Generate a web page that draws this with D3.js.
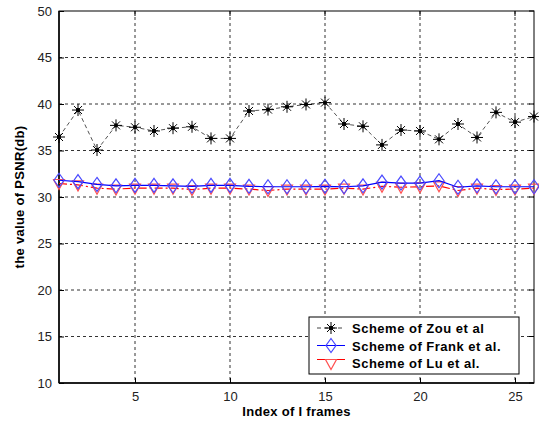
<!DOCTYPE html>
<html><head><meta charset="utf-8">
<script src="https://cdn.jsdelivr.net/npm/d3@7"></script>
<style>body{margin:0;background:#fff}svg{display:block}text{font-family:Arial,"Liberation Sans",sans-serif}</style>
</head><body><svg id="c" width="539" height="425"></svg>
<script>
const frames = d3.range(1, 27);
const zou   = [36.45,39.35,35.05,37.7,37.5,37.1,37.4,37.55,36.3,36.3,39.25,39.4,39.7,39.95,40.15,37.85,37.6,35.6,37.2,37.1,36.2,37.85,36.4,39.1,38.05,38.65];
const frank = [31.8,31.65,31.35,31.2,31.25,31.25,31.2,31.15,31.25,31.25,31.15,31.1,31.1,31.1,31.15,31.1,31.2,31.6,31.5,31.5,31.75,31.05,31.2,31.1,31.1,31.1];
const lu    = [31.45,31.3,30.95,30.85,30.95,30.95,30.95,30.8,30.95,30.95,30.85,30.7,30.85,30.85,30.85,30.95,30.85,31.15,31.05,31.1,31.2,30.7,30.95,30.8,30.85,30.95];
const xTicks = [5,10,15,20,25];
const yTicks = [10,15,20,25,30,35,40,45,50];
const seriesNames = ["Scheme of Zou et al","Scheme of Frank et al.","Scheme of Lu et al."];

const svg = d3.select("#c");
const L=59, R=534, T=11, B=383;
const x = d3.scaleLinear().domain([1,26]).range([L,R]);
const y = d3.scaleLinear().domain([10,50]).range([B,T]);
const g = svg.append("g");

g.selectAll(".gx").data(xTicks).join("line").attr("x1",d=>x(d)).attr("x2",d=>x(d)).attr("y1",T).attr("y2",B)
 .attr("stroke","#333").attr("stroke-width",1).attr("stroke-dasharray","3,3");
g.selectAll(".gy").data(yTicks.filter(d=>d>10&&d<50)).join("line").attr("y1",d=>y(d)).attr("y2",d=>y(d)).attr("x1",L).attr("x2",R)
 .attr("stroke","#333").attr("stroke-width",1).attr("stroke-dasharray","3,3");

g.append("rect").attr("x",L).attr("y",T).attr("width",R-L).attr("height",B-T).attr("fill","none").attr("stroke","#000").attr("stroke-width",1);
g.append("line").attr("x1",L).attr("x2",R).attr("y1",B).attr("y2",B).attr("stroke","#000").attr("stroke-width",1.5);
g.append("line").attr("x1",L).attr("x2",L).attr("y1",T).attr("y2",B).attr("stroke","#000").attr("stroke-width",1.5);

const xa = d3.axisBottom(x).tickValues(xTicks).tickSize(-5).tickPadding(9).tickFormat(d3.format("d"));
const ya = d3.axisLeft(y).tickValues(yTicks).tickSize(-5).tickPadding(7).tickFormat(d3.format("d"));
const gx = svg.append("g").attr("transform",`translate(0,${B})`).call(xa);
const gy = svg.append("g").attr("transform",`translate(${L},0)`).call(ya);
[gx,gy].forEach(a=>{a.select(".domain").remove();a.selectAll("text").attr("font-size",13).attr("fill","#222");a.selectAll("line").attr("stroke","#000");});
svg.selectAll(".tt").data(xTicks).join("line").attr("x1",d=>x(d)).attr("x2",d=>x(d)).attr("y1",T).attr("y2",T+5).attr("stroke","#000");
svg.selectAll(".rt").data(yTicks).join("line").attr("y1",d=>y(d)).attr("y2",d=>y(d)).attr("x1",R).attr("x2",R-5).attr("stroke","#000");

svg.append("text").attr("x",(L+R)/2).attr("y",416).attr("text-anchor","middle").attr("font-size",13).attr("font-weight","bold").attr("letter-spacing",0.3).text("Index of I frames");
svg.append("text").attr("transform",`translate(24,${(T+B)/2}) rotate(-90)`).attr("text-anchor","middle").attr("font-size",13).attr("font-weight","bold").attr("letter-spacing",0.3).text("the value of PSNR(db)");

const line = d3.line().x((d,i)=>x(frames[i])).y(d=>y(d));
const star = (sel, cx, cy) => {
  const s=sel.append("g").attr("transform",`translate(${cx},${cy})`).attr("stroke","#000").attr("stroke-width",1);
  s.append("line").attr("x1",-6).attr("x2",6).attr("y1",0).attr("y2",0);
  s.append("line").attr("x1",0).attr("x2",0).attr("y1",-6).attr("y2",6);
  s.append("line").attr("x1",-4).attr("x2",4).attr("y1",-4).attr("y2",4);
  s.append("line").attr("x1",-4).attr("x2",4).attr("y1",4).attr("y2",-4);
  s.append("circle").attr("r",1.6).attr("fill","#000");
};
const diamond = (sel,cx,cy)=>sel.append("path").attr("d",`M${cx},${cy-7}L${cx+5},${cy}L${cx},${cy+7}L${cx-5},${cy}Z`).attr("fill","none").attr("stroke","#4a4aff").attr("stroke-width",1.2);
const tri = (sel,cx,cy)=>sel.append("path").attr("d",`M${cx-5.5},${cy-4}L${cx+5.5},${cy-4}L${cx},${cy+6}Z`).attr("fill","none").attr("stroke","#ff5050").attr("stroke-width",1.2);

svg.append("path").datum(lu).attr("d",line).attr("fill","none").attr("stroke","#f00").attr("stroke-width",1.2).attr("stroke-dasharray","8,3,2,3");
const gl = svg.append("g"); lu.forEach((v,i)=>tri(gl,x(frames[i]),y(v)));
svg.append("path").datum(frank).attr("d",line).attr("fill","none").attr("stroke","#00f").attr("stroke-width",1.2);
const gf = svg.append("g"); frank.forEach((v,i)=>diamond(gf,x(frames[i]),y(v)));
svg.append("path").datum(zou).attr("d",line).attr("fill","none").attr("stroke","#555").attr("stroke-width",1).attr("stroke-dasharray","4,3");
const gz = svg.append("g"); zou.forEach((v,i)=>star(gz,x(frames[i]),y(v)));

const lg = svg.append("g").attr("transform","translate(309,317)");
lg.append("rect").attr("width",210).attr("height",57).attr("fill","#fff").attr("stroke","#000").attr("stroke-width",1);
const rows=[11,28.5,45.5];
lg.append("line").attr("x1",8).attr("x2",36).attr("y1",rows[0]).attr("y2",rows[0]).attr("stroke","#444").attr("stroke-dasharray","4,3");
star(lg,22,rows[0]);
lg.append("line").attr("x1",8).attr("x2",36).attr("y1",rows[1]).attr("y2",rows[1]).attr("stroke","#00f");
diamond(lg,22,rows[1]);
lg.append("line").attr("x1",8).attr("x2",36).attr("y1",rows[2]-3).attr("y2",rows[2]-3).attr("stroke","#f00");
tri(lg,22,rows[2]+1);
seriesNames.forEach((n,i)=>lg.append("text").attr("x",43).attr("y",rows[i]+5).attr("font-size",13).attr("font-weight","bold").attr("letter-spacing",0.5).text(n));
</script></body></html>
